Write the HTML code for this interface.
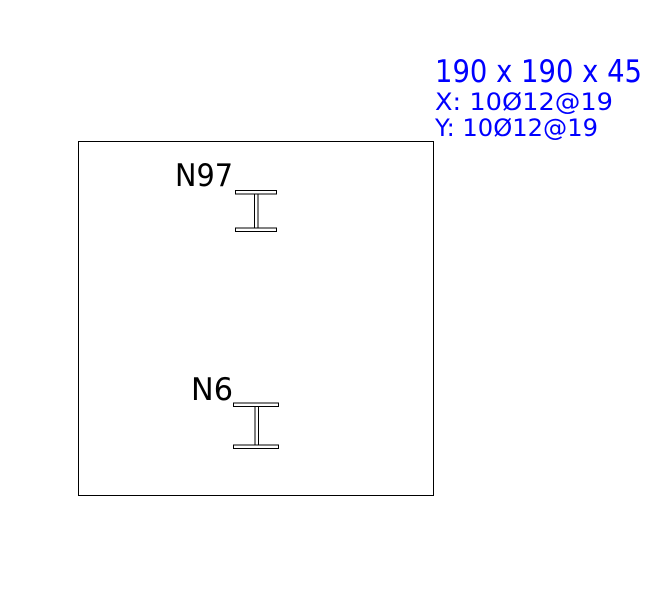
<!DOCTYPE html>
<html><head><meta charset="utf-8"><style>
html,body{margin:0;padding:0;background:#fff;width:660px;height:615px;overflow:hidden}
svg{display:block}
text{font-family:"DejaVu Sans","Liberation Sans",sans-serif}
</style></head><body>
<svg width="660" height="615" viewBox="0 0 660 615" xmlns="http://www.w3.org/2000/svg">
<rect x="78.5" y="141.5" width="355" height="354" fill="none" stroke="#000" stroke-width="1"/>
<g fill="#fff" stroke="#000" stroke-width="1">
<rect x="235.5" y="190.5" width="41" height="3.5"/>
<rect x="254.5" y="194" width="3.5" height="34"/>
<rect x="235.5" y="228" width="41" height="3.5"/>
<rect x="233.5" y="403" width="45" height="3.5"/>
<rect x="255" y="406.5" width="3.5" height="38.5"/>
<rect x="233.5" y="445" width="45" height="3.5"/>
</g>
<text x="175" y="186" font-size="31" fill="#000" textLength="58" lengthAdjust="spacingAndGlyphs">N97</text>
<text x="191" y="400" font-size="31" fill="#000" textLength="42" lengthAdjust="spacingAndGlyphs">N6</text>
<text x="435" y="82" font-size="31" fill="#0000ff" textLength="207" lengthAdjust="spacingAndGlyphs">190 x 190 x 45</text>
<text x="435" y="110" font-size="24" fill="#0000ff" textLength="178" lengthAdjust="spacingAndGlyphs">X: 10Ø12@19</text>
<text x="435" y="136" font-size="24" fill="#0000ff" textLength="163" lengthAdjust="spacingAndGlyphs">Y: 10Ø12@19</text>
</svg>
</body></html>
